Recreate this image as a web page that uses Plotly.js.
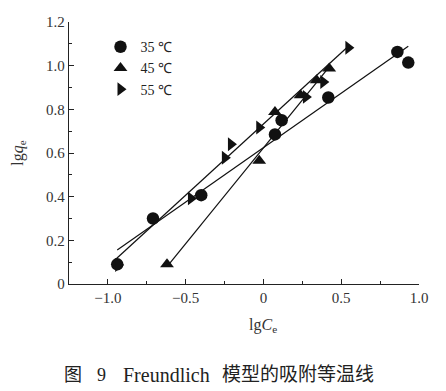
<!DOCTYPE html>
<html><head><meta charset="utf-8">
<script src="https://cdn.plot.ly/plotly-3.0.1.min.js"></script>
<style>html,body{margin:0;padding:0;background:#fff}</style>
</head><body><div id="chart" style="width:446px;height:391px"></div>
<script>
// 35 ℃
const x35 = [-0.94, -0.71, -0.40, 0.074, 0.117, 0.417, 0.861, 0.931];
const y35 = [0.090, 0.300, 0.407, 0.685, 0.750, 0.854, 1.063, 1.014];
// 45 ℃
const x45 = [-0.62, -0.027, 0.074, 0.239, 0.342, 0.423];
const y45 = [0.091, 0.564, 0.788, 0.865, 0.933, 0.987];
// 55 ℃
const x55 = [-0.934, -0.466, -0.248, -0.209, -0.027, 0.273, 0.385, 0.546];
const y55 = [0.087, 0.392, 0.578, 0.640, 0.717, 0.857, 0.925, 1.082];
// fitted line endpoints
const fitX35 = [-0.94, 0.931], fitY35 = [0.156, 1.089];
const fitX45 = [-0.612, 0.423], fitY45 = [0.087, 0.995];
const fitX55 = [-0.955, 0.546], fitY55 = [0.110, 1.089];
const names = ['35 ℃', '45 ℃', '55 ℃'];
const xTickVals = [-1, -0.5, 0, 0.5, 1];
const xTickText = ['\u22121.0', '\u22120.5', '0', '0.5', '1.0'];
const yTickVals = [0, 0.2, 0.4, 0.6, 0.8, 1.0, 1.2];
const yTickText = ['0', '0.2', '0.4', '0.6', '0.8', '1.0', '1.2'];
const captionParts = ['图', '9', 'Freundlich', '模型的吸附等温线'];

const lineStyle = {color: '#111', width: 1.2};
const traces = [
  {x: fitX35, y: fitY35, mode: 'lines', line: lineStyle, showlegend: false, hoverinfo: 'skip'},
  {x: fitX45, y: fitY45, mode: 'lines', line: lineStyle, showlegend: false, hoverinfo: 'skip'},
  {x: fitX55, y: fitY55, mode: 'lines', line: lineStyle, showlegend: false, hoverinfo: 'skip'},
  {x: x35, y: y35, mode: 'markers', name: names[0], marker: {symbol: 'circle', size: 12.5, color: '#111'}},
  {x: x45, y: y45, mode: 'markers', name: names[1], marker: {symbol: 'triangle-up', size: 12, color: '#111'}},
  {x: x55, y: y55, mode: 'markers', name: names[2], marker: {symbol: 'triangle-right', size: 12, color: '#111'}}
];
const serif = "'Liberation Serif', serif";
const cjk = "'Liberation Serif', 'Noto Sans CJK SC', serif";
const fnt = {family: serif, size: 14, color: '#222'};
// caption pieces placed along the bottom (paper coords)
const capX = [-0.02, 0.075, 0.148, 0.432];
const capSize = [18, 18, 20, 19];
const annotations = captionParts.map((t, i) => ({
  text: t, xref: 'paper', yref: 'paper', x: capX[i], y: -0.347,
  xanchor: 'left', yanchor: 'middle', showarrow: false,
  font: {family: cjk, size: capSize[i], color: '#222'}
}));
annotations.push({
  text: 'lg<i>C</i><sub>e</sub>', xref: 'x', yref: 'paper', x: 0, y: -0.158,
  xanchor: 'center', yanchor: 'middle', showarrow: false,
  font: {family: serif, size: 16, color: '#333'}
});
const layout = {
  width: 446, height: 391,
  margin: {l: 69, r: 27, t: 22, b: 107},
  paper_bgcolor: '#fff', plot_bgcolor: '#fff',
  font: fnt,
  showlegend: true,
  legend: {x: 0.09, y: 0.965, xanchor: 'left', yanchor: 'top', bgcolor: 'rgba(0,0,0,0)',
           font: {family: serif, size: 14, color: '#222'}, tracegroupgap: 0, itemwidth: 30},
  xaxis: {range: [-1.25, 1.0], showgrid: false, zeroline: false, showline: true, linecolor: '#222', linewidth: 1.2,
          ticks: 'inside', ticklen: 5, tickcolor: '#222', tickvals: xTickVals, ticktext: xTickText,
          tickfont: {family: serif, size: 15, color: '#333'},
          minor: {ticks: 'inside', ticklen: 3, tickcolor: '#222', dtick: 0.25, tick0: 0}},
  yaxis: {range: [0, 1.2], showgrid: false, zeroline: false, showline: true, linecolor: '#222', linewidth: 1.2,
          ticks: 'inside', ticklen: 5, tickcolor: '#222', tickvals: yTickVals, ticktext: yTickText,
          tickfont: {family: serif, size: 15, color: '#333'},
          minor: {ticks: 'inside', ticklen: 3, tickcolor: '#222', dtick: 0.1, tick0: 0},
          title: {text: 'lg<i>q</i><sub>e</sub>', font: {family: serif, size: 16, color: '#333'}, standoff: 18}},
  annotations: annotations
};
Plotly.newPlot('chart', traces, layout, {staticPlot: true, displayModeBar: false});
</script></body></html>
